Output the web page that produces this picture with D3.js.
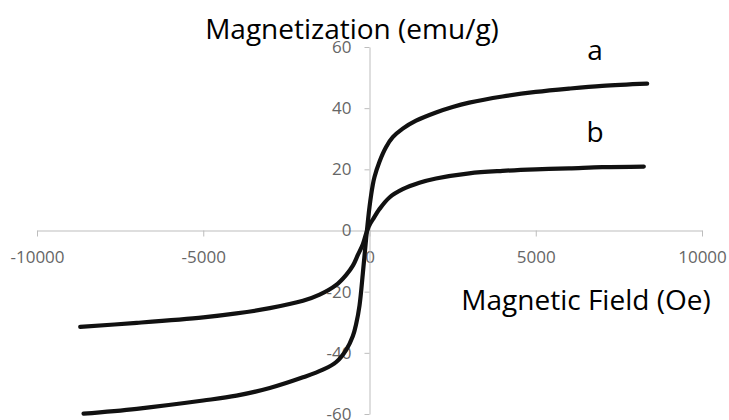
<!DOCTYPE html>
<html>
<head>
<meta charset="utf-8">
<script src="https://cdn.jsdelivr.net/npm/d3@7"></script>
<style>
  body { margin: 0; background: #fff; }
  svg { display: block; }
</style>
</head>
<body>
<div id="chart"></div>
<script>
// magnetic field (Oe) and magnetization (emu/g)
const fieldA = [-8600, -7000, -5000, -4000, -3000, -2000, -1400, -1000, -700, -500, -400, -300, -200, -100, 0, 100, 150, 300, 500, 700, 1000, 1400, 2000, 2500, 3000, 4000, 5000, 6000, 7000, 8350];
const magA   = [-59.9, -58.3, -55.6, -54.0, -51.5, -48.0, -45.5, -43.0, -39.0, -34.5, -30.5, -24.5, -14.0, -2.5, 7.7, 15.0, 17.5, 22.5, 27.3, 30.5, 33.3, 35.9, 38.6, 40.4, 41.8, 43.8, 45.3, 46.4, 47.3, 48.0];

const fieldB = [-8700, -7000, -5000, -4000, -3000, -2000, -1500, -1000, -700, -500, -350, -200, -100, 0, 100, 300, 600, 1000, 1500, 2000, 3000, 4000, 5000, 6000, 7000, 8250];
const magB   = [-31.5, -30.2, -28.4, -27.1, -25.4, -23.0, -21.0, -17.8, -14.5, -11.5, -8.0, -4.5, -1.0, 1.8, 3.6, 7.0, 10.8, 13.5, 15.6, 17.0, 18.7, 19.5, 20.0, 20.3, 20.7, 20.9];

const xTicks = [-10000, -5000, 0, 5000, 10000];
const yTicks = [-60, -40, -20, 0, 20, 40, 60];

const svgWidth = 729;
const svgHeight = 420;

const svg = d3.select("#chart")
    .append("svg")
    .attr("width", svgWidth)
    .attr("height", svgHeight);

const x = d3.scaleLinear()
    .domain([-10000, 10000])
    .range([37, 702]);

const y = d3.scaleLinear()
    .domain([-60, 60])
    .range([414, 47]);

const axisColor = "#bdbdbd";
const tickColor = "#666";

// x axis through y = 0
const xAxis = svg.append("g")
    .attr("transform", `translate(0,${y(0)})`)
    .call(d3.axisBottom(x)
        .tickValues(xTicks)
        .tickFormat(d => String(d))
        .tickSize(6)
        .tickSizeOuter(0)
        .tickPadding(14));

// y axis through x = 0
const yAxis = svg.append("g")
    .attr("transform", `translate(${x(0)},0)`)
    .call(d3.axisLeft(y)
        .tickValues(yTicks)
        .tickFormat(d => String(d))
        .tickSize(5)
        .tickSizeOuter(0)
        .tickPadding(13));

[xAxis, yAxis].forEach(g => {
    g.select(".domain").attr("stroke", axisColor);
    g.selectAll(".tick line").attr("stroke", axisColor);
    g.selectAll(".tick text")
        .attr("fill", tickColor)
        .style("font-family", "'Open Sans', sans-serif")
        .style("font-size", "17px");
});

const line = d3.line()
    .x(d => x(d[0]))
    .y(d => y(d[1]))
    .curve(d3.curveCatmullRom.alpha(0.5));

const series = [
    { name: "a", pts: fieldA.map((f, i) => [f, magA[i]]) },
    { name: "b", pts: fieldB.map((f, i) => [f, magB[i]]) }
];

svg.append("g")
    .selectAll("path")
    .data(series)
    .enter()
    .append("path")
    .attr("d", d => line(d.pts))
    .attr("fill", "none")
    .attr("stroke", "#111")
    .attr("stroke-width", 4.2)
    .attr("stroke-linecap", "round");

const labelFont = "'Open Sans', sans-serif";

svg.append("text")
    .attr("x", 352)
    .attr("y", 39)
    .attr("text-anchor", "middle")
    .style("font-family", labelFont)
    .style("font-size", "28px")
    .text("Magnetization (emu/g)");

svg.append("text")
    .attr("x", 586)
    .attr("y", 310)
    .attr("text-anchor", "middle")
    .style("font-family", labelFont)
    .style("font-size", "28px")
    .text("Magnetic Field (Oe)");

svg.append("text")
    .attr("x", 595)
    .attr("y", 60)
    .attr("text-anchor", "middle")
    .style("font-family", labelFont)
    .style("font-size", "28px")
    .text("a");

svg.append("text")
    .attr("x", 595)
    .attr("y", 142)
    .attr("text-anchor", "middle")
    .style("font-family", labelFont)
    .style("font-size", "28px")
    .text("b");
</script>
</body>
</html>
